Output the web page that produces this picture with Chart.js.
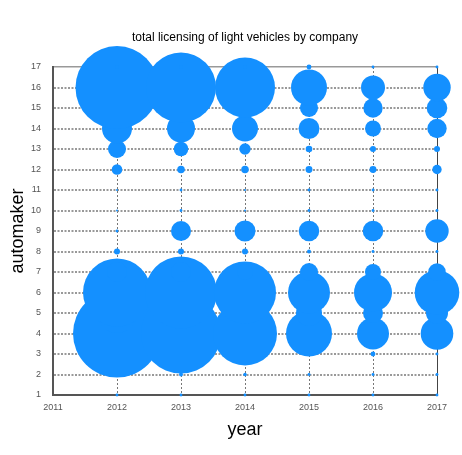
<!DOCTYPE html>
<html>
<head>
<meta charset="utf-8">
<script src="https://cdn.jsdelivr.net/npm/chart.js@4"></script>
<style>
  html, body { margin: 0; padding: 0; background: #fff; }
  #wrap { width: 462px; height: 455px; }
</style>
</head>
<body>
<div id="wrap"><canvas class="myChart"></canvas></div>
<script>
const YEARS = [2012, 2013, 2014, 2015, 2016, 2017];
const AUTOMAKERS = [1, 2, 3, 4, 5, 6, 7, 8, 9, 10, 11, 12, 13, 14, 15, 16, 17];

// licensing per automaker (index 0 = automaker 1), bubble area ~ value
const licensing2012 = [2, 4, 4, 1936, 400, 1156, 100, 9, 2, 1, 1, 28, 81, 225, 100, 1722, 4];
const licensing2013 = [2, 4, 9, 1600, 225, 1296, 100, 9, 100, 2, 2, 14, 53, 196, 100, 1225, 4];
const licensing2014 = [2, 3, 9, 1024, 100, 961, 64, 9, 110, 1, 1, 14, 32, 169, 49, 900, 4];
const licensing2015 = [2, 2, 2, 529, 169, 441, 81, 4, 106, 2, 2, 12, 11, 110, 81, 324, 6];
const licensing2016 = [2, 2, 6, 256, 100, 361, 64, 2, 106, 2, 2, 12, 9, 64, 94, 144, 2];
const licensing2017 = [2, 2, 2, 266, 121, 497, 76, 2, 137, 2, 2, 22, 9, 94, 106, 188, 2];

const X_TICKS = [2011, 2012, 2013, 2014, 2015, 2016, 2017];

function getPoints() {
  const byYear = [licensing2012, licensing2013, licensing2014, licensing2015, licensing2016, licensing2017];
  const points = [];
  YEARS.forEach((year, i) => {
    AUTOMAKERS.forEach((maker, j) => {
      points.push({x: year, y: maker, r: Math.sqrt(byYear[i][j])});
    });
  });
  return points;
}

const FONT = 'Helvetica, "Liberation Sans", Arial, sans-serif';

const ctx = document.getElementsByClassName('myChart')[0].getContext('2d');
const chart = new Chart(ctx, {
  type: 'bubble',
  data: {
    datasets: [{
      label: 'licensing',
      data: getPoints(),
      backgroundColor: 'rgb(20, 144, 255)',
      borderWidth: 0,
      hoverBorderWidth: 0,
      clip: false,
    }]
  },
  options: {
    responsive: true,
    maintainAspectRatio: false,
    animation: false,
    layout: {
      autoPadding: false,
      padding: {left: 0, right: 25, top: 0, bottom: 0}
    },
    scales: {
      x: {
        type: 'linear',
        min: 2011,
        max: 2017,
        afterBuildTicks(scale) {
          scale.ticks = X_TICKS.map(v => ({value: v}));
        },
        afterFit(scale) { scale.height = 60; },
        ticks: {
          color: '#555',
          font: {family: FONT, size: 9},
          padding: 7,
          maxRotation: 0,
          callback: v => String(v),
        },
        grid: {
          drawTicks: false,
          lineWidth: 1,
          color(c) {
            if (!c.tick) return '#777';
            if (c.tick.value === 2011) return 'rgba(0,0,0,0)';
            if (c.tick.value === 2017) return '#444';
            return '#777';
          },
        },
        border: {
          color: '#555',
          width: 2,
          dash(c) {
            return c.tick && c.tick.value === 2017 ? [] : [2, 2];
          },
        },
        title: {
          display: true,
          text: 'year',
          color: '#000',
          font: {family: FONT, size: 18},
          padding: {top: 0, bottom: 14},
        },
      },
      y: {
        type: 'linear',
        min: 1,
        max: 17,
        afterBuildTicks(scale) {
          scale.ticks = AUTOMAKERS.map(v => ({value: v}));
        },
        afterFit(scale) { scale.width = 53; },
        ticks: {
          color: '#555',
          font: {family: FONT, size: 9},
          padding: 12,
        },
        grid: {
          drawTicks: false,
          lineWidth(c) {
            return c.tick && c.tick.value === 17 ? 1.5 : 2;
          },
          color(c) {
            if (!c.tick) return '#999';
            if (c.tick.value === 1) return 'rgba(0,0,0,0)';
            return '#999';
          },
        },
        border: {
          color: '#555',
          width: 2,
          dash(c) {
            return c.tick && c.tick.value === 17 ? [] : [2, 1.5];
          },
        },
        title: {
          display: true,
          text: 'automaker',
          color: '#000',
          font: {family: FONT, size: 18},
          padding: {top: 7, bottom: 0},
        },
      },
    },
    plugins: {
      legend: {display: false},
      tooltip: {enabled: false},
      title: {
        display: true,
        fullSize: false,
        text: 'total licensing of light vehicles by company',
        color: '#000',
        font: {family: FONT, size: 12, weight: 'normal'},
        padding: {top: 30, bottom: 22.6},
      },
    },
  },
});
</script>
</body>
</html>
